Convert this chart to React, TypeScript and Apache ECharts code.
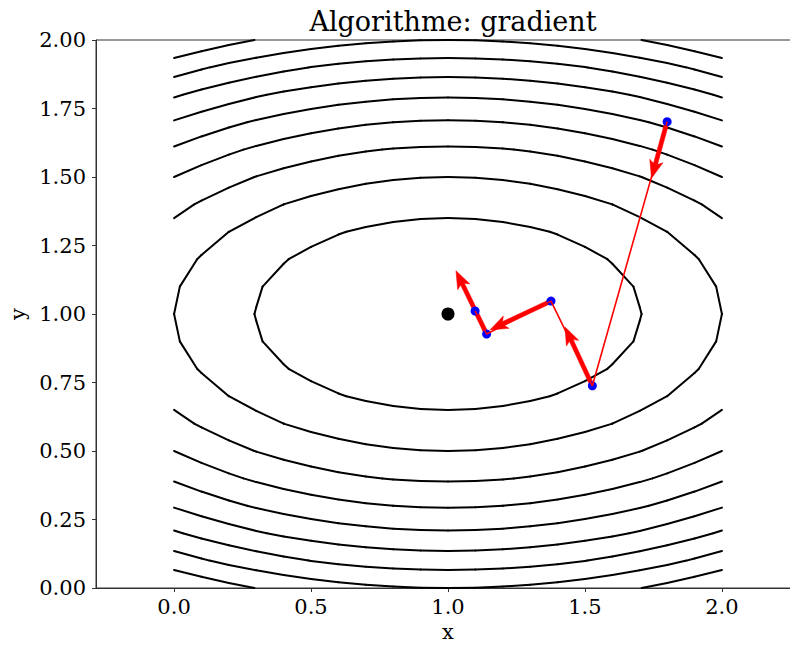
import React, { useEffect, useRef } from "react";
import * as echarts from "echarts";

// ---- Data ----
// Objective f(x, y) = WEIGHTS[0]*(x-CENTER[0])^2 + WEIGHTS[1]*(y-CENTER[1])^2
const CENTER = [1, 1];
const WEIGHTS = [1, 4];
const CONTOUR_LEVELS = [0.5, 1.0, 1.5, 2.0, 2.5, 3.0, 3.5, 4.0, 4.5];
const GRID_DOMAIN = [0, 2];
const GRID_STEP = 0.1;

// Gradient-descent iterates (blue points)
const PATH_X = [1.8, 1.527, 1.376, 1.141, 1.099];
const PATH_Y = [1.702, 0.738, 1.047, 0.927, 1.011];
// Arrow tips (direction of -gradient) drawn from the first four iterates
const ARROW_TIP_X = [1.743, 1.427, 1.153, 1.029];
const ARROW_TIP_Y = [1.495, 0.953, 0.942, 1.158];
// Minimum (black point)
const MIN_POINT = [1, 1];

// Axes
const X_MIN = -0.285;
const X_MAX = 2.285;
const X_TICKS = [0, 0.5, 1, 1.5, 2];
const Y_MIN = 0;
const Y_MAX = 2;
const Y_INTERVAL = 0.25;

const TITLE = "Algorithme: gradient";
const X_NAME = "x";
const Y_NAME = "y";

const FONT = "'DejaVu Serif', serif";

function objective(x: number, y: number) {
  return WEIGHTS[0] * (x - CENTER[0]) ** 2 + WEIGHTS[1] * (y - CENTER[1]) ** 2;
}

// Marching squares on the sampling grid
function contourSegments(levels: number[]) {
  const n = Math.round((GRID_DOMAIN[1] - GRID_DOMAIN[0]) / GRID_STEP) + 1;
  const g = (k: number) => GRID_DOMAIN[0] + k * GRID_STEP;
  const segs: number[][] = [];
  for (const level of levels) {
    for (let i = 0; i < n - 1; i++) {
      for (let j = 0; j < n - 1; j++) {
        const cx = [g(i), g(i + 1), g(i + 1), g(i)];
        const cy = [g(j), g(j), g(j + 1), g(j + 1)];
        const v = cx.map((x, k) => objective(x, cy[k]));
        const pts: number[][] = [];
        for (let e = 0; e < 4; e++) {
          const a = e;
          const b = (e + 1) % 4;
          const ia = v[a] > level;
          const ib = v[b] > level;
          if (ia !== ib) {
            const t = (level - v[a]) / (v[b] - v[a]);
            pts.push([cx[a] + t * (cx[b] - cx[a]), cy[a] + t * (cy[b] - cy[a])]);
          }
        }
        if (pts.length === 2) {
          segs.push([pts[0][0], pts[0][1], pts[1][0], pts[1][1]]);
        } else if (pts.length === 4) {
          segs.push([pts[0][0], pts[0][1], pts[1][0], pts[1][1]]);
          segs.push([pts[2][0], pts[2][1], pts[3][0], pts[3][1]]);
        }
      }
    }
  }
  return segs;
}

export default function App() {
  const ref = useRef<HTMLDivElement>(null);

  useEffect(() => {
    document.body.style.margin = "0";
    if (!ref.current) return;
    const chart = echarts.init(ref.current, null, { renderer: "svg" });

    const contourData = contourSegments(CONTOUR_LEVELS);
    const pathData = PATH_X.map((x, i) => [x, PATH_Y[i]]);
    const arrowData = ARROW_TIP_X.map((tx, i) => [PATH_X[i], PATH_Y[i], tx, ARROW_TIP_Y[i]]);

    const option: any = {
      animation: false,
      backgroundColor: "#fff",
      textStyle: { fontFamily: FONT },
      title: {
        text: TITLE,
        left: 448,
        top: 3,
        textAlign: "center",
        textStyle: { fontFamily: FONT, fontSize: 27, fontWeight: "normal", color: "#000" },
      },
      grid: {
        left: 96,
        top: 40,
        width: 704,
        height: 548,
        show: true,
        borderColor: "#333",
        borderWidth: 1,
        backgroundColor: "transparent",
        containLabel: false,
        outerBoundsMode: "none",
      },
      xAxis: {
        type: "value",
        min: X_MIN,
        max: X_MAX,
        name: X_NAME,
        nameLocation: "middle",
        nameGap: 33,
        nameTextStyle: { fontFamily: FONT, fontSize: 21, color: "#000" },
        axisLine: { show: true, onZero: false, lineStyle: { color: "#333", width: 1 } },
        axisTick: { show: true, inside: false, length: 4, lineStyle: { color: "#333" }, customValues: X_TICKS },
        axisLabel: {
          customValues: X_TICKS,
          margin: 8,
          fontFamily: FONT,
          fontSize: 21,
          color: "#000",
          formatter: (v: number) => v.toFixed(1),
        },
        splitLine: { show: false },
      },
      yAxis: {
        type: "value",
        min: Y_MIN,
        max: Y_MAX,
        interval: Y_INTERVAL,
        name: Y_NAME,
        nameLocation: "middle",
        nameGap: 68,
        nameTextStyle: { fontFamily: FONT, fontSize: 21, color: "#000" },
        axisLine: { show: true, onZero: false, lineStyle: { color: "#333", width: 1 } },
        axisTick: { show: true, inside: false, length: 4, lineStyle: { color: "#333" } },
        axisLabel: {
          margin: 10,
          fontFamily: FONT,
          fontSize: 21,
          color: "#000",
          formatter: (v: number) => v.toFixed(2),
        },
        splitLine: { show: false },
      },
      series: [
        {
          type: "custom",
          name: "contours",
          coordinateSystem: "cartesian2d",
          encode: { x: [0, 2], y: [1, 3] },
          data: contourData,
          silent: true,
          renderItem: (_p: any, api: any) => {
            const a = api.coord([api.value(0), api.value(1)]);
            const b = api.coord([api.value(2), api.value(3)]);
            return {
              type: "line",
              shape: { x1: a[0], y1: a[1], x2: b[0], y2: b[1] },
              style: { stroke: "#000", lineWidth: 2, lineCap: "round" },
            };
          },
        },
        {
          type: "line",
          name: "path",
          data: pathData,
          symbol: "none",
          lineStyle: { color: "#ff0000", width: 1.6 },
          silent: true,
        },
        {
          type: "custom",
          name: "arrows",
          coordinateSystem: "cartesian2d",
          encode: { x: [0, 2], y: [1, 3] },
          data: arrowData,
          silent: true,
          renderItem: (_p: any, api: any) => {
            const a = api.coord([api.value(0), api.value(1)]);
            const b = api.coord([api.value(2), api.value(3)]);
            const dx = b[0] - a[0];
            const dy = b[1] - a[1];
            const len = Math.sqrt(dx * dx + dy * dy) || 1;
            const ux = dx / len;
            const uy = dy / len;
            const nx = -uy;
            const ny = ux;
            const sw = 2.1;
            const hw = 6.8;
            const hl = 18;
            const hal = 15;
            const base = [b[0] - ux * hal, b[1] - uy * hal];
            const wing = [b[0] - ux * hl, b[1] - uy * hl];
            const pts = [
              [a[0] + nx * sw, a[1] + ny * sw],
              [base[0] + nx * sw, base[1] + ny * sw],
              [wing[0] + nx * hw, wing[1] + ny * hw],
              [b[0], b[1]],
              [wing[0] - nx * hw, wing[1] - ny * hw],
              [base[0] - nx * sw, base[1] - ny * sw],
              [a[0] - nx * sw, a[1] - ny * sw],
            ];
            return {
              type: "polygon",
              shape: { points: pts },
              style: { fill: "#ff0000", stroke: "#ff0000", lineWidth: 0.5 },
            };
          },
        },
        {
          type: "scatter",
          name: "iterates",
          data: pathData,
          symbol: "circle",
          symbolSize: 9,
          itemStyle: { color: "#0000ff", opacity: 1 },
          silent: true,
        },
        {
          type: "scatter",
          name: "minimum",
          data: [MIN_POINT],
          symbol: "circle",
          symbolSize: 13,
          itemStyle: { color: "#000", opacity: 1 },
          silent: true,
        },
      ],
    };

    chart.setOption(option);
    return () => chart.dispose();
  }, []);

  return <div ref={ref} style={{ width: 790, height: 647 }} />;
}
